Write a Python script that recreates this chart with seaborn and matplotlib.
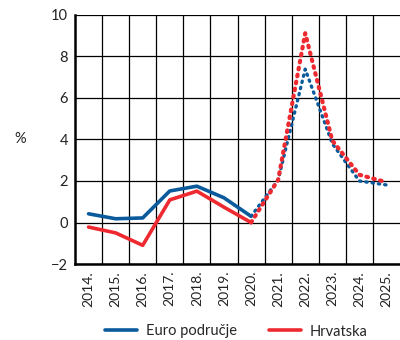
"""
Inflation: euro area vs Croatia, actual and projection
"""

# import section
import pandas as pd
import seaborn as sns
import matplotlib.pyplot as plt
from matplotlib.lines import Line2D
from matplotlib.ticker import MultipleLocator

# data
YEARS = ['2014.', '2015.', '2016.', '2017.', '2018.', '2019.', '2020.',
         '2021.', '2022.', '2023.', '2024.', '2025.']
EURO = [0.42, 0.18, 0.22, 1.52, 1.75, 1.19, 0.30,
        2.05, 7.39, 3.80, 2.00, 1.81]
HRV = [-0.22, -0.50, -1.10, 1.09, 1.51, 0.74, 0.00,
       2.05, 9.12, 3.95, 2.30, 1.94]
LAST_ACTUAL = '2020.'

BLUE, RED = '#0a5a9c', '#ee2a30'

# build frame
DF = pd.DataFrame({'pos': range(len(YEARS)), 'year': YEARS, 'euro': EURO, 'hrv': HRV})
split = YEARS.index(LAST_ACTUAL)
ACTUAL = DF[DF.pos <= split]
PROJ = DF[DF.pos >= split]

sns.set_style('white')
plt.rcParams['font.family'] = ['Lato', 'DejaVu Sans']

fig = plt.figure(figsize=(4, 3.4), dpi=100)
ax = fig.add_axes([0.1875, 0.2235, 0.8125, 0.7325])

# actual (solid) and projection (dotted)
sns.lineplot(x='pos', y='euro', data=ACTUAL, color=BLUE, lw=2.6, ax=ax)
sns.lineplot(x='pos', y='hrv', data=ACTUAL, color=RED, lw=2.6, ax=ax)
sns.lineplot(x='pos', y='euro', data=PROJ, color=BLUE, lw=2.4, ax=ax,
             linestyle=(0, (0.4, 1.5)), dash_capstyle='round')
sns.lineplot(x='pos', y='hrv', data=PROJ, color=RED, lw=3.0, ax=ax,
             linestyle=(0, (0.4, 1.3)), dash_capstyle='round')

ax.set_xlim(-0.5, len(YEARS) - 0.5)
ax.set_ylim(-2, 10)
ax.yaxis.set_major_locator(MultipleLocator(2))
ax.set_xticks(DF.pos)
ax.set_xticklabels(YEARS, rotation=90, fontsize=10, color='#222222')
ax.set_xticks([p + 0.5 for p in DF.pos[:-1]], minor=True)
ax.set_yticklabels(['\u22122' if t < 0 else f'{t:g}' for t in ax.get_yticks()],
                   fontsize=10.5, color='#222222')
ax.tick_params(axis='both', length=0, pad=5)
ax.tick_params(axis='x', which='minor', length=0)

ax.grid(True, axis='y', which='major', color='black', lw=0.9)
ax.grid(True, axis='x', which='minor', color='black', lw=0.9)
ax.grid(False, axis='x', which='major')
ax.set_xlabel('')
ax.set_ylabel('%', rotation=0, fontsize=10.5, color='#222222', labelpad=22, va='center')

for side in ['left', 'bottom']:
    ax.spines[side].set_linewidth(1.8)
    ax.spines[side].set_color('black')
for side in ['top', 'right']:
    ax.spines[side].set_visible(False)

handles = [Line2D([], [], color=BLUE, lw=2.6), Line2D([], [], color=RED, lw=2.6)]
fig.legend(handles, ['Euro područje', 'Hrvatska'], ncol=2, frameon=False,
           loc='center', bbox_to_anchor=(0.59, 0.025), fontsize=10.5,
           handlelength=2.2, handletextpad=0.6, columnspacing=2.2)

plt.savefig('out.png')
